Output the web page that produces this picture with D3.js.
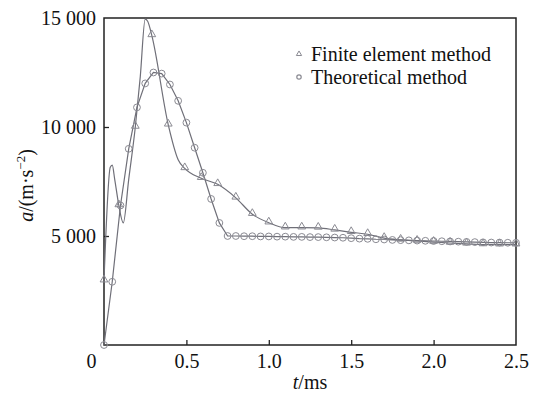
<!DOCTYPE html>
<html>
<head>
<meta charset="utf-8">
<script src="https://cdn.jsdelivr.net/npm/d3@7"></script>
<style>
  body { margin: 0; background: #fff; }
</style>
</head>
<body>
<div id="chart"></div>
<script>
// finite element method: curve nodes (ms, m/s^2)
const femT = [0, 0.038, 0.05, 0.065, 0.09, 0.117, 0.15, 0.19, 0.22, 0.25, 0.265, 0.29, 0.39, 0.45, 0.49, 0.59, 0.69, 0.8, 0.9, 1.0, 1.1, 1.2, 1.3, 1.4, 1.5, 1.6, 1.7, 1.8, 1.9, 2.0, 2.1, 2.2, 2.3, 2.4, 2.5];
const femA = [2950, 8150, 8250, 7600, 6400, 5600, 7600, 10000, 12300, 14950, 14850, 14200, 10100, 8500, 8100, 7650, 7370, 6750, 6000, 5610, 5380, 5380, 5370, 5280, 5170, 5080, 4900, 4820, 4770, 4720, 4680, 4640, 4610, 4600, 4600];
// triangle markers
const femMarkT = [0, 0.09, 0.19, 0.29, 0.39, 0.49, 0.59, 0.69, 0.8, 0.9, 1.0, 1.1, 1.2, 1.3, 1.4, 1.5, 1.6, 1.7, 1.8, 1.9, 2.0, 2.1, 2.2, 2.3, 2.4, 2.5];
const femMarkA = [2950, 6400, 10000, 14200, 10100, 8100, 7650, 7370, 6750, 6000, 5610, 5380, 5380, 5370, 5280, 5170, 5080, 4900, 4820, 4770, 4720, 4680, 4640, 4610, 4600, 4600];

// theoretical method
const theoT = [0, 0.05, 0.1, 0.15, 0.2, 0.25, 0.3, 0.35, 0.4, 0.45, 0.5, 0.55, 0.6, 0.65, 0.7, 0.75, 0.8, 0.85, 0.9, 0.95,
  1.0, 1.05, 1.1, 1.15, 1.2, 1.25, 1.3, 1.35, 1.4, 1.45, 1.5, 1.55, 1.6, 1.65, 1.7, 1.75, 1.8, 1.85, 1.9, 1.95,
  2.0, 2.05, 2.1, 2.15, 2.2, 2.25, 2.3, 2.35, 2.4, 2.45, 2.5];
const theoA = [0, 2900, 6400, 9000, 10900, 12000, 12500, 12450, 11950, 11200, 10200, 9050, 7900, 6700, 5600, 5000, 5000, 4990, 4990, 4980,
  4980, 4970, 4970, 4960, 4960, 4950, 4950, 4940, 4930, 4920, 4900, 4880, 4870, 4850, 4840, 4820, 4810, 4800, 4790, 4780,
  4770, 4760, 4750, 4740, 4730, 4720, 4710, 4700, 4700, 4690, 4690];

const xTicks = [0, 0.5, 1.0, 1.5, 2.0, 2.5];
const yTicks = [5000, 10000, 15000];
const seriesNames = ["Finite element method", "Theoretical method"];

const width = 534, height = 394;
const margin = {top: 18, right: 18, bottom: 49, left: 104};
const lineColor = "#6f6f78";
const markColor = "#8a8a92";
const serif = "'Liberation Serif', 'Times New Roman', serif";

const svg = d3.select("#chart").append("svg")
  .attr("width", width).attr("height", height)
  .style("font-family", serif);

const x = d3.scaleLinear().domain([0, 2.5]).range([margin.left, width - margin.right]);
const y = d3.scaleLinear().domain([0, 15000]).range([height - margin.bottom, margin.top]);

const fmt = v => d3.format(",")(v).replace(",", " ");

// frame
svg.append("rect")
  .attr("x", x(0)).attr("y", y(15000))
  .attr("width", x(2.5) - x(0)).attr("height", y(0) - y(15000))
  .attr("fill", "none").attr("stroke", "#222").attr("stroke-width", 1.5);

// x axis
const xAxis = svg.append("g")
  .attr("transform", `translate(0,${y(0)})`)
  .call(d3.axisBottom(x).tickValues(xTicks).tickSizeInner(-5).tickSizeOuter(0)
    .tickFormat(d => d === 0 ? "0" : d3.format(".1f")(d)))
  .attr("font-family", null);
xAxis.select(".domain").remove();
xAxis.selectAll(".tick line").attr("stroke", "#222").attr("stroke-width", 1.3)
  .filter(d => d === 0 || d === 2.5).remove();
xAxis.selectAll(".tick text").attr("font-size", 20).attr("fill", "#111")
  .style("font-family", serif)
  .attr("y", 9).attr("dy", "0.71em")
  .attr("dx", d => d === 0 ? -13 : 0);

// y axis
const yAxis = svg.append("g")
  .attr("transform", `translate(${x(0)},0)`)
  .call(d3.axisLeft(y).tickValues(yTicks).tickSizeInner(-5).tickSizeOuter(0).tickFormat(fmt))
  .attr("font-family", null);
yAxis.select(".domain").remove();
yAxis.selectAll(".tick line").attr("stroke", "#222").attr("stroke-width", 1.3)
  .filter(d => d === 15000).remove();
yAxis.selectAll(".tick text").attr("font-size", 20).attr("fill", "#111")
  .style("font-family", serif).attr("x", -8);

// axis titles
svg.append("text")
  .attr("x", (x(0) + x(2.5)) / 2).attr("y", 389)
  .attr("text-anchor", "middle").attr("font-size", 20).attr("fill", "#111")
  .call(t => {
    t.append("tspan").attr("font-style", "italic").text("t");
    t.append("tspan").text("/ms");
  });

const yt = svg.append("text")
  .attr("transform", `translate(33,${(y(0) + y(15000)) / 2 + 4}) rotate(-90)`)
  .attr("text-anchor", "middle").attr("font-size", 20).attr("fill", "#111");
yt.append("tspan").attr("font-style", "italic").text("a");
yt.append("tspan").text("/(m·s");
yt.append("tspan").attr("font-size", 13).attr("dy", -8).text("−2");
yt.append("tspan").attr("dy", 8).text(")");

// lines
const femData = femT.map((t, i) => ({t, a: femA[i]}));
const theoData = theoT.map((t, i) => ({t, a: theoA[i]}));

svg.append("path")
  .datum(femData)
  .attr("fill", "none").attr("stroke", lineColor).attr("stroke-width", 1.2)
  .attr("d", d3.line().x(d => x(d.t)).y(d => y(d.a)).curve(d3.curveMonotoneX));

svg.append("path")
  .datum(theoData)
  .attr("fill", "none").attr("stroke", lineColor).attr("stroke-width", 1.2)
  .attr("d", d3.line().x(d => x(d.t)).y(d => y(d.a)));

// markers
svg.append("g").selectAll("path")
  .data(femMarkT.map((t, i) => ({t, a: femMarkA[i]})))
  .join("path")
  .attr("transform", d => `translate(${x(d.t)},${y(d.a) - 1})`)
  .attr("d", d3.symbol(d3.symbolTriangle, 26))
  .attr("fill", "none").attr("stroke", markColor).attr("stroke-width", 1);

svg.append("g").selectAll("circle")
  .data(theoData)
  .join("circle")
  .attr("cx", d => x(d.t)).attr("cy", d => y(d.a)).attr("r", 3.4)
  .attr("fill", "none").attr("stroke", markColor).attr("stroke-width", 1);

// legend
const legend = svg.append("g");
seriesNames.forEach((name, i) => {
  const ly = 54 + i * 23;
  if (i === 0) {
    legend.append("path")
      .attr("transform", `translate(299,${ly})`)
      .attr("d", d3.symbol(d3.symbolTriangle, 12))
      .attr("fill", "none").attr("stroke", markColor).attr("stroke-width", 1);
  } else {
    legend.append("circle").attr("cx", 299).attr("cy", ly).attr("r", 2.2)
      .attr("fill", "none").attr("stroke", markColor).attr("stroke-width", 1.2);
  }
  legend.append("text").attr("x", 311).attr("y", ly + 7)
    .attr("font-size", 20).attr("fill", "#111").text(name);
});
</script>
</body>
</html>
